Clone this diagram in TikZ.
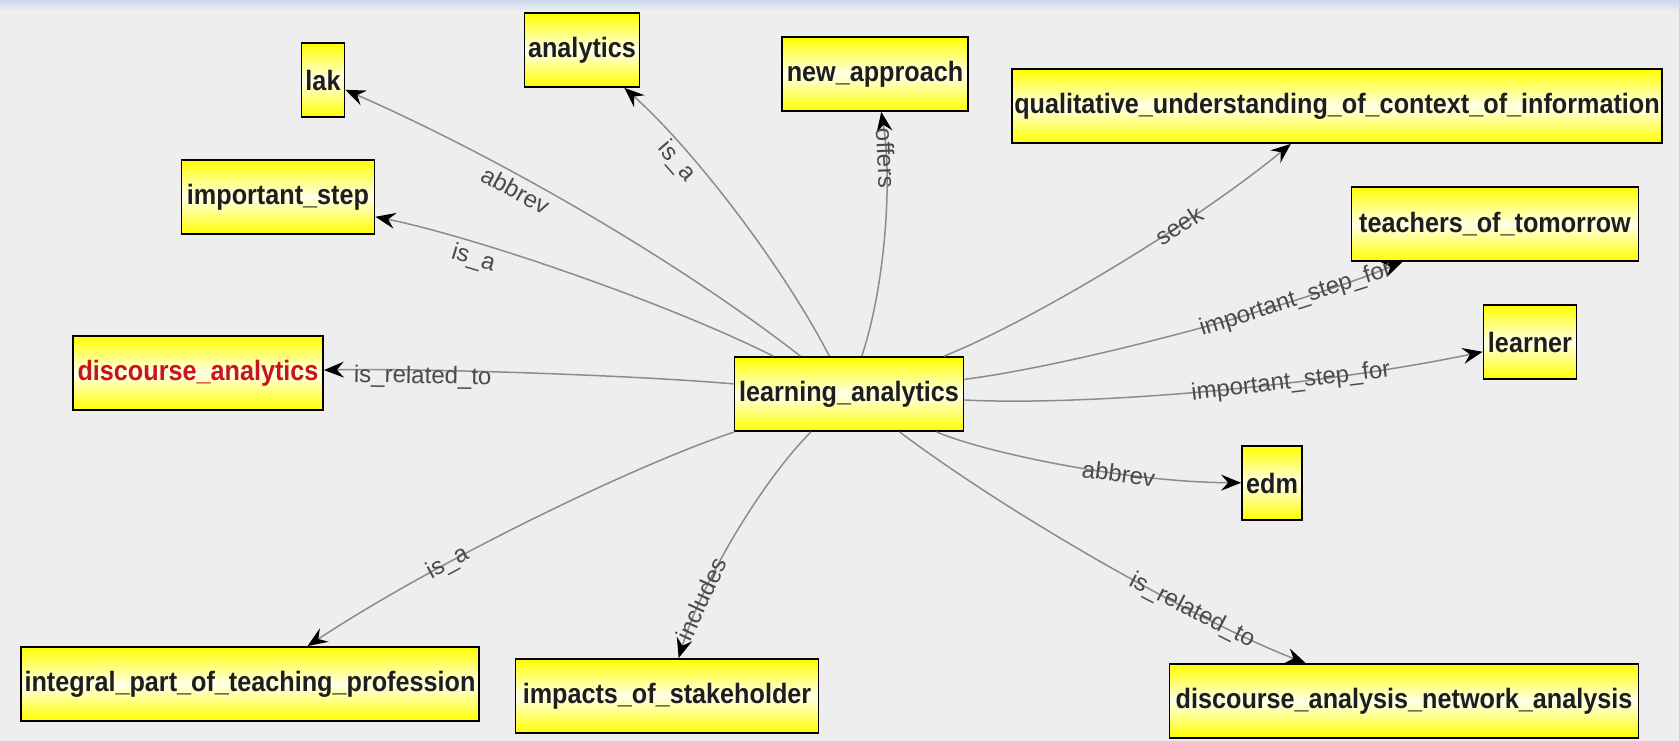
\documentclass[tikz,border=0pt]{standalone}
\usepackage{fontspec}
\setmainfont{Liberation Sans}
\usepackage{graphicx}
\usetikzlibrary{arrows.meta,calc}
\definecolor{bg}{HTML}{EEEEEE}
\definecolor{edgegray}{HTML}{8C8C8C}
\definecolor{labgray}{HTML}{4A4A4A}
\definecolor{nodetext}{HTML}{1E1E1E}
\definecolor{redtext}{HTML}{C8141E}
\definecolor{ylw}{HTML}{FFFF00}
\definecolor{paleylw}{HTML}{FFFFE8}
\definecolor{bandblue}{HTML}{CADAEC}
\newcommand{\nt}[1]{\scalebox{0.9}[1]{#1}}
% #1 target node, #2 label, #3 pos, #4 extra label options, #5 bow of the curve
\newcommand{\relto}[5]{%
  \path ($(la)!0.5!(#1)!#5!-90:(#1)$) coordinate (q#1);
  \draw[rel] (la) .. controls ($(la)!0.6667!(q#1)$) and ($(#1)!0.6667!(q#1)$) ..
    node[lab, pos=#3, #4] {#2} (#1);
}
\tikzset{
  concept/.style={draw=black, line width=1.8pt, top color=ylw, bottom color=ylw,
    middle color=paleylw, inner sep=2pt, minimum height=74pt,
    font=\fontsize{28}{30}\selectfont\bfseries, text=nodetext},
  rel/.style={-{Stealth[length=20pt,width=16pt,inset=7pt,color=black]},
    draw=edgegray, line width=1.5pt},
  lab/.style={sloped, font=\fontsize{24}{26}\selectfont, text=labgray, inner sep=1pt}
}
\begin{document}
\begin{tikzpicture}[x=1pt,y=-1pt]
\useasboundingbox (0,0) rectangle (1679,741);
\fill[bg] (0,0) rectangle (1679,741);
\shade[top color=bandblue, bottom color=bg] (0,0) rectangle (1679,11);

\node[concept, minimum width=43pt] (lak) at (323,80) {\nt{lak}};
\node[concept, minimum width=115pt] (analytics) at (582,50) {\nt{analytics}};
\node[concept, minimum width=186pt] (newapp) at (875,74) {\nt{new\_approach}};
\node[concept, minimum width=645pt] (qual) at (1337,106) {\nt{qualitative\_understanding\_of\_context\_of\_information}};
\node[concept, minimum width=193pt] (impstep) at (278,197) {\nt{important\_step}};
\node[concept, minimum width=287pt] (teach) at (1495,224) {\nt{teachers\_of\_tomorrow}};
\node[concept, minimum width=250pt, text=redtext] (disc) at (198,373) {\nt{discourse\_analytics}};
\node[concept, minimum width=229pt] (la) at (849,394) {\nt{learning\_analytics}};
\node[concept, minimum width=93pt] (learner) at (1530,342) {\nt{learner}};
\node[concept, minimum width=60pt] (edm) at (1272,483) {\nt{edm}};
\node[concept, minimum width=458pt] (integral) at (250,684) {\nt{integral\_part\_of\_teaching\_profession}};
\node[concept, minimum width=303pt] (impacts) at (667,696) {\nt{impacts\_of\_stakeholder}};
\node[concept, minimum width=469pt] (dana) at (1404,701) {\nt{discourse\_analysis\_network\_analysis}};

\relto{lak}{abbrev}{0.645}{below=4pt}{38pt}
\relto{analytics}{is\_a}{0.71}{below=1pt}{40pt}
\relto{newapp}{offers}{0.80}{}{40pt}
\relto{qual}{seek}{0.68}{}{44pt}
\relto{impstep}{is\_a}{0.72}{below=3pt}{40pt}
\relto{teach}{important\_step\_for}{0.74}{}{44pt}
\relto{disc}{is\_related\_to}{0.725}{below=-6pt}{18pt}
\relto{learner}{important\_step\_for}{0.66}{}{44pt}
\relto{edm}{abbrev}{0.66}{}{44pt}
\relto{integral}{is\_a}{0.68}{}{44pt}
\relto{impacts}{includes}{0.76}{}{44pt}
\relto{dana}{is\_related\_to}{0.69}{}{44pt}
\end{tikzpicture}
\end{document}
